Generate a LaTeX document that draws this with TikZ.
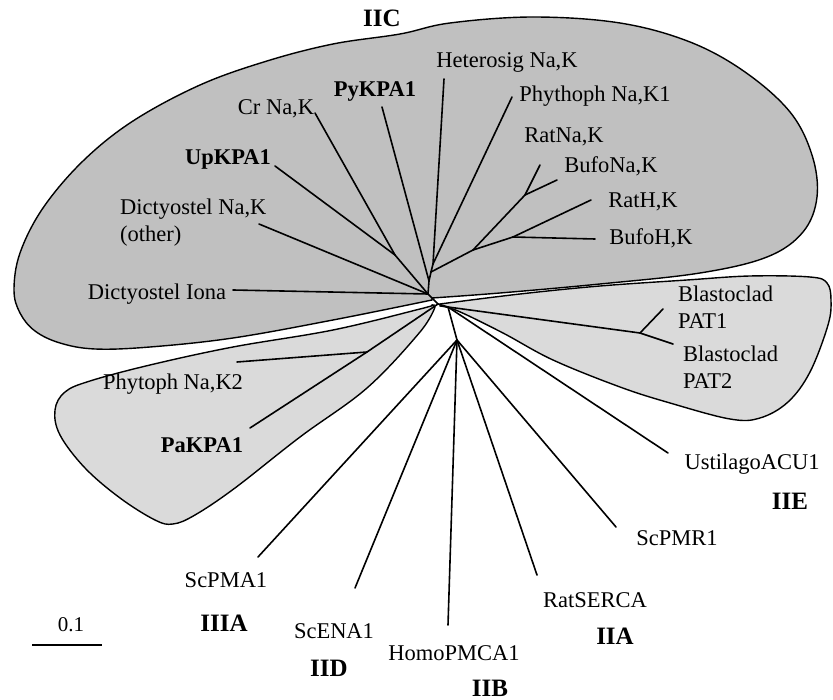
\documentclass[tikz,border=0pt]{standalone}
\usepackage{fontspec}
\setmainfont{Liberation Serif}
\definecolor{darkreg}{RGB}{192,192,192}
\definecolor{lightreg}{RGB}{218,218,218}
\begin{document}
\begin{tikzpicture}[x=1pt,y=-1pt,
  leaf/.style={font=\fontsize{22.5}{27}\selectfont, inner sep=0pt, anchor=base},
  leafb/.style={leaf, font=\fontsize{22.5}{27}\selectfont\bfseries},
  leafw/.style={leaf, anchor=base west},
  grp/.style={font=\fontsize{25}{30}\selectfont\bfseries, inner sep=0pt, anchor=base},
  branch/.style={line width=1.6pt, line cap=round, line join=round},
  region/.style={line width=1.4pt, draw=black}]
\useasboundingbox (0,0) rectangle (833,700);

% shaded regions
\filldraw[region, fill=darkreg] plot[smooth, tension=0.6] coordinates {
 (432,298) (500,293) (600,284) (700,273) (767,257) (803,232) (817,197) (812,155)
 (790,112) (745,72) (690,42) (620,23) (533,17) (450,23) (400,34) (333,44) (267,61)
 (200,85) (133,121) (83,161) (43,208) (20,253) (14,290) (20,313) (35,331) (60,343)
 (95,349) (150,347) (233,338) (333,320) (432,300)} -- cycle;
\filldraw[region, fill=lightreg] plot[smooth, tension=0.6] coordinates {
 (440,304) (520,294) (600,286) (687,280) (750,276) (810,277) (827,283) (831,300)
 (828,325) (810,372) (788,402) (760,418) (730,419) (670,403) (620,387) (553,360)
 (503,333) (458,311) (440,306)} -- cycle;
\filldraw[region, fill=lightreg] plot[smooth, tension=0.6] coordinates {
 (433,305) (420,309) (333,330) (233,347) (150,365) (90,381) (65,392) (55,410)
 (60,435) (85,468) (120,498) (155,520) (173,524) (195,515) (235,488) (300,437)
 (367,388) (420,332) (435,307)} -- cycle;

% tree nodes
\coordinate (T0) at (428,294);
\coordinate (T1) at (429,281);
\coordinate (T2) at (431,272);
\coordinate (A) at (433,264);
\coordinate (AN) at (473,250);
\coordinate (NK) at (525,195);
\coordinate (HK) at (513,237);
\coordinate (UC) at (395,255);
\coordinate (R2) at (438,304);
\coordinate (PG) at (367,352);
\coordinate (R3) at (448,307);
\coordinate (BG) at (640,333);
\coordinate (D) at (457,340);
% leaf ends
\coordinate (lIona) at (233,290);
\coordinate (lDNK) at (259,224);
\coordinate (lUp) at (275,166);
\coordinate (lCr) at (315,113);
\coordinate (lPy) at (382,107);
\coordinate (lHet) at (444,79);
\coordinate (lPK1) at (512,97);
\coordinate (lRNK) at (540,165);
\coordinate (lBNK) at (557,180);
\coordinate (lRHK) at (591,200);
\coordinate (lBHK) at (595,239);
\coordinate (lPK2) at (237,362);
\coordinate (lPa) at (250,428);
\coordinate (lPAT1) at (663,309);
\coordinate (lPAT2) at (673,344);
\coordinate (lUst) at (668,453);
\coordinate (lPMA) at (258,557);
\coordinate (lENA) at (355,588);
\coordinate (lHomo) at (448,625);
\coordinate (lSERCA) at (537,575);
\coordinate (lPMR) at (616,527);

\draw[branch] (T0) -- (lIona);
\draw[branch] (T0) -- (lDNK);
\draw[branch] (T0) -- (UC);
\draw[branch] (UC) -- (lUp);
\draw[branch] (UC) -- (lCr);
\draw[branch] (T0) -- (T1);
\draw[branch] (T1) -- (lPy);
\draw[branch] (T1) -- (T2);
\draw[branch] (T2) -- (A);
\draw[branch] (A) -- (lHet);
\draw[branch] (A) -- (lPK1);
\draw[branch] (T2) -- (AN);
\draw[branch] (AN) -- (NK);
\draw[branch] (NK) -- (lRNK);
\draw[branch] (NK) -- (lBNK);
\draw[branch] (AN) -- (HK);
\draw[branch] (HK) -- (lRHK);
\draw[branch] (HK) -- (lBHK);
\draw[branch] (T0) -- (R2);
\draw[branch] (R2) -- (PG);
\draw[branch] (PG) -- (lPK2);
\draw[branch] (PG) -- (lPa);
\draw[branch] (R2) -- (R3);
\draw[branch] (R3) -- (BG);
\draw[branch] (BG) -- (lPAT1);
\draw[branch] (BG) -- (lPAT2);
\draw[branch] (R3) -- (lUst);
\draw[branch] (R3) -- (D);
\draw[branch] (D) -- (lPMA);
\draw[branch] (D) -- (lENA);
\draw[branch] (D) -- (lHomo);
\draw[branch] (D) -- (lSERCA);
\draw[branch] (D) -- (lPMR);

% labels
\node[grp] (gIIC) at (382,26.5) {IIC};
\node[leaf] (tCr) at (276,115) {Cr Na,K};
\node[leafb] (tPy) at (375,97) {PyKPA1};
\node[leaf] (tHet) at (507,68) {Heterosig Na,K};
\node[leaf] (tPK1) at (595,102) {Phythoph Na,K1};
\node[leaf] (tRNK) at (564,143) {RatNa,K};
\node[leaf] (tBNK) at (611,173) {BufoNa,K};
\node[leaf] (tRHK) at (643,208) {RatH,K};
\node[leaf] (tBHK) at (651,245) {BufoH,K};
\node[leafb] (tUp) at (228,165) {UpKPA1};
\node[leafw] (tDNK) at (120,215) {Dictyostel Na,K};
\node[leafw] (tDNKb) at (120,242) {(other)};
\node[leaf] (tIona) at (157,300) {Dictyostel Iona};
\node[leaf] (tPK2) at (173,390) {Phytoph Na,K2};
\node[leafb] (tPa) at (202,453) {PaKPA1};
\node[leafw] (tPAT1) at (678,302) {Blastoclad};
\node[leafw] (tPAT1b) at (678,329) {PAT1};
\node[leafw] (tPAT2) at (683,362) {Blastoclad};
\node[leafw] (tPAT2b) at (683,389) {PAT2};
\node[leaf] (tUst) at (752,470) {UstilagoACU1};
\node[grp] (gIIE) at (790,509) {IIE};
\node[leaf] (tPMR) at (677,545) {ScPMR1};
\node[leaf] (tSERCA) at (595,607) {RatSERCA};
\node[grp] (gIIA) at (615,644) {IIA};
\node[leaf] (tHomo) at (454,660) {HomoPMCA1};
\node[grp] (gIIB) at (490,696) {IIB};
\node[leaf] (tENA) at (334,638) {ScENA1};
\node[grp] (gIID) at (329,676) {IID};
\node[leaf] (tPMA) at (226,587) {ScPMA1};
\node[grp] (gIIIA) at (224,631.5) {IIIA};

% scale bar
\node[leaf, font=\fontsize{21}{25}\selectfont] (tScale) at (71,631) {0.1};
\coordinate (sb1) at (32,645);
\coordinate (sb2) at (102,645);
\draw[line width=1.4pt] (sb1) -- (sb2);
\end{tikzpicture}
\end{document}
